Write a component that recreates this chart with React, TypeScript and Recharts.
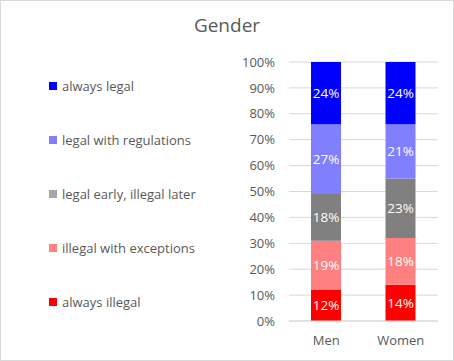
import { Bar, BarChart, CartesianGrid, LabelList, XAxis, YAxis } from "recharts";

const groups = ["Men", "Women"];
const alwaysIllegal = [12, 14];
const illegalWithExceptions = [19, 18];
const legalEarlyIllegalLater = [18, 23];
const legalWithRegulations = [27, 21];
const alwaysLegal = [24, 24];
const yTicks = [0, 10, 20, 30, 40, 50, 60, 70, 80, 90, 100];

// stack order bottom → top
const series = [
  { key: "alwaysIllegal", name: "always illegal", values: alwaysIllegal, color: "#FF0000", legend: "#FF0000" },
  { key: "illegalWithExceptions", name: "illegal with exceptions", values: illegalWithExceptions, color: "#FF8080", legend: "#FF8080" },
  { key: "legalEarlyIllegalLater", name: "legal early, illegal later", values: legalEarlyIllegalLater, color: "#808080", legend: "#A6A6A6" },
  { key: "legalWithRegulations", name: "legal with regulations", values: legalWithRegulations, color: "#8080FF", legend: "#8080FF" },
  { key: "alwaysLegal", name: "always legal", values: alwaysLegal, color: "#0000FF", legend: "#0000FF" },
];

const rows = groups.map((g, i) => {
  const row: Record<string, string | number> = { group: g };
  series.forEach((s) => (row[s.key] = s.values[i]));
  return row;
});

const font = "'Open Sans', sans-serif";
const textColor = "#595959";

export default function App() {
  return (
    <div
      style={{
        position: "absolute",
        left: 0,
        top: 0,
        width: 454,
        height: 361,
        background: "#fff",
        fontFamily: font,
        boxSizing: "border-box",
        border: "1px solid #D9D9D9",
      }}
    >
      <div
        style={{
          position: "absolute",
          left: 0,
          top: 11,
          width: 452,
          textAlign: "center",
          fontSize: 19,
          color: textColor,
        }}
      >
        Gender
      </div>
      {[...series].reverse().map((s, i) => (
        <div
          key={s.key}
          style={{
            position: "absolute",
            left: 48,
            top: 75 + i * 54,
            height: 20,
            display: "flex",
            alignItems: "center",
            fontSize: 13,
            color: textColor,
            whiteSpace: "nowrap",
          }}
        >
          <span style={{ width: 8, height: 8, background: s.legend, marginRight: 5, display: "inline-block" }} />
          {s.name}
        </div>
      ))}
      <div style={{ position: "absolute", left: -1, top: -1 }}>
        <BarChart
          width={454}
          height={361}
          data={rows}
          margin={{ top: 62, right: 16, bottom: 0, left: 230 }}
          barSize={30}
        >
          <CartesianGrid vertical={false} stroke="#D9D9D9" />
          <XAxis
            dataKey="group"
            height={40}
            tickLine={false}
            tickSize={0}
            tickMargin={15}
            axisLine={{ stroke: "#D9D9D9" }}
            tick={{ fill: textColor, fontSize: 13, fontFamily: font }}
          />
          <YAxis
            width={59}
            domain={[0, 100]}
            ticks={yTicks}
            tickFormatter={(v) => `${v}%`}
            axisLine={false}
            tickLine={false}
            tickSize={0}
            tickMargin={14}
            tick={{ fill: textColor, fontSize: 13, fontFamily: font }}
          />
          {series.map((s) => (
            <Bar key={s.key} dataKey={s.key} name={s.name} stackId="a" fill={s.color} isAnimationActive={false}>
              <LabelList
                dataKey={s.key}
                position="center"
                formatter={(v: number) => `${v}%`}
                fill="#FFFFFF"
                style={{ fontSize: 13.5, fontFamily: font }}
              />
            </Bar>
          ))}
        </BarChart>
      </div>
    </div>
  );
}
